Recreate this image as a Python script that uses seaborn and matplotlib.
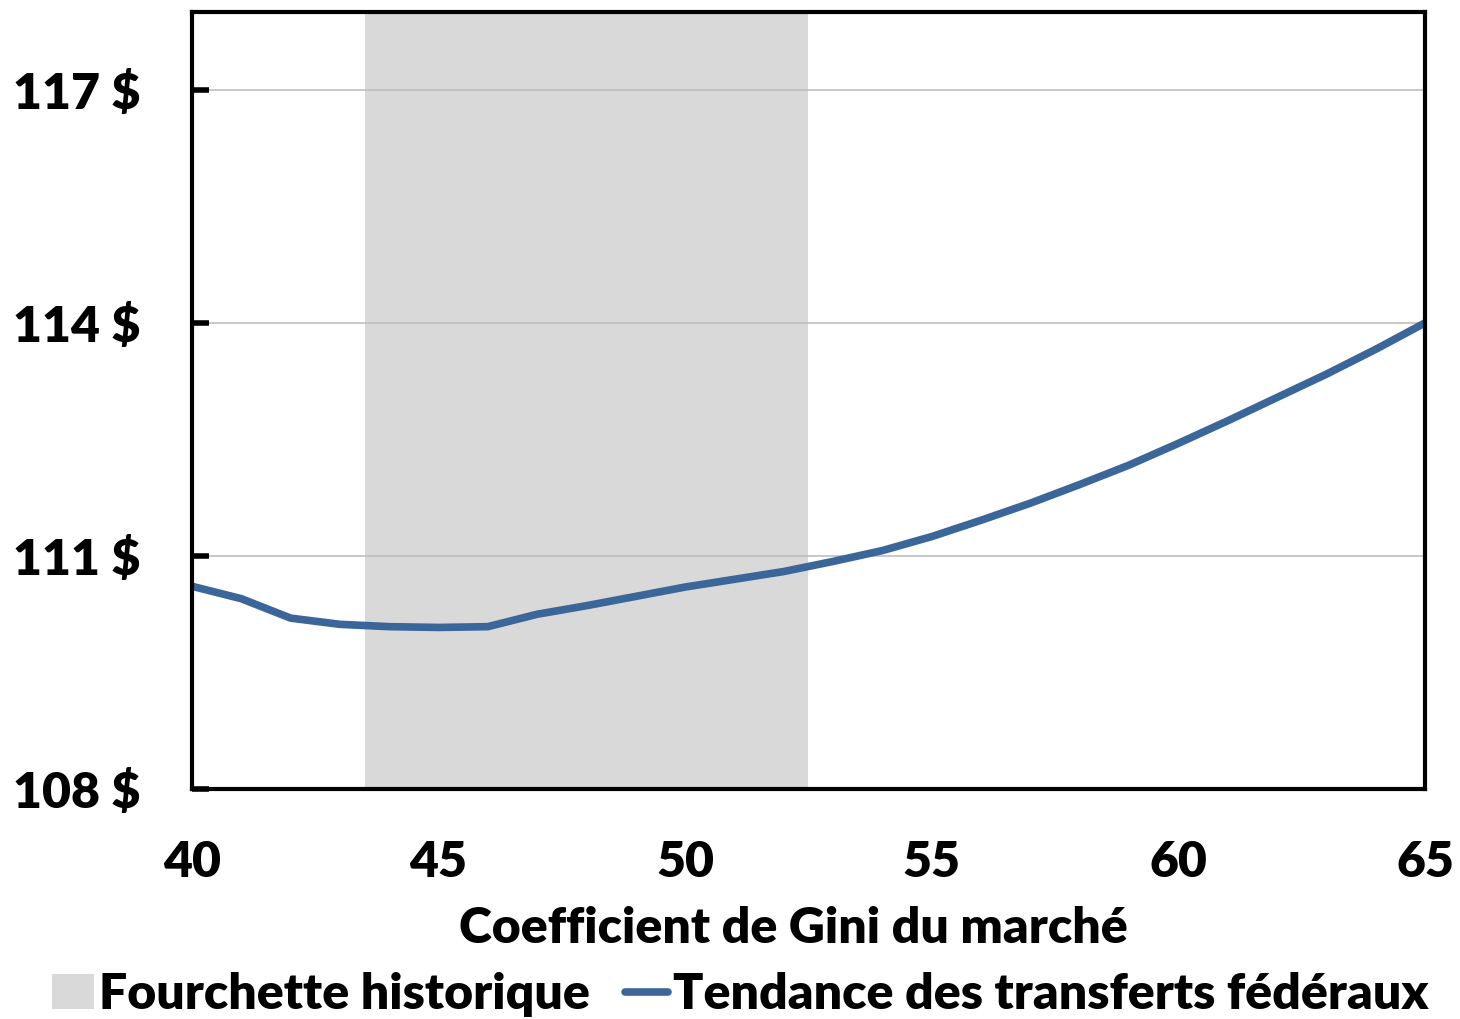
import matplotlib
matplotlib.use("Agg")
import matplotlib.pyplot as plt
import seaborn as sns
import pandas as pd
from matplotlib.patches import Patch
from matplotlib.lines import Line2D

# Data
gini = [40, 41, 42, 43, 44, 45, 46, 47, 48, 49, 50, 51, 52, 53, 54, 55,
        56, 57, 58, 59, 60, 61, 62, 63, 64, 65]
transferts = [110.61, 110.45, 110.20, 110.12, 110.09, 110.08, 110.09, 110.25,
              110.36, 110.48, 110.60, 110.70, 110.80, 110.93, 111.07, 111.25,
              111.46, 111.68, 111.92, 112.17, 112.45, 112.74, 113.04, 113.34,
              113.66, 114.00]
hist_range = [43.5, 52.5]
y_ticks = [108, 111, 114, 117]
x_ticks = [40, 45, 50, 55, 60, 65]
x_label = "Coefficient de Gini du marché"
lbl_range = "Fourchette historique"
lbl_line = "Tendance des transferts fédéraux"

df = pd.DataFrame({"gini": gini, "val": transferts})

sns.set_theme(style="white")
plt.rcParams["font.family"] = ["Lato", "DejaVu Sans"]
plt.rcParams["text.color"] = "black"
plt.rcParams["xtick.color"] = "black"
plt.rcParams["ytick.color"] = "black"
plt.rcParams["axes.labelcolor"] = "black"

FS = 36
W = "heavy"
line_color = "#3A6699"
shade_color = "#D9D9D9"

fig = plt.figure(figsize=(14.6, 10.19), dpi=100)
ax = fig.add_axes([0.1315, 0.2257, 0.976 - 0.1315, 0.988 - 0.2257])
ax.set_axisbelow(False)

ax.axvspan(hist_range[0], hist_range[1], color=shade_color, lw=0, zorder=0)
for yv in y_ticks[1:]:
    ax.axhline(yv, color="#BFBFBF", lw=1.2, zorder=1)
sns.lineplot(data=df, x="gini", y="val", ax=ax, color=line_color, lw=5.5,
             zorder=3, legend=False)

ax.set_xlim(40, 65)
ax.set_ylim(108, 118)
ax.set_xticks(x_ticks)
ax.set_xticklabels([str(v) for v in x_ticks], fontsize=FS, fontweight=W)
ax.set_yticks(y_ticks)
ax.set_yticklabels([f"{v} $" for v in y_ticks], fontsize=FS, fontweight=W)
# inward tick marks on the left spine (drawn on the right side of the spine)
ax.tick_params(axis="y", which="major", left=False, right=False)
ax.tick_params(axis="y", direction="in", length=12, width=4, color="black",
               pad=37, left=True)
ax.tick_params(axis="x", length=0, pad=37)

ax.set_xlabel(x_label, fontsize=FS, fontweight=W, color="black")
ax.xaxis.set_label_coords(0.488, -0.15)
ax.set_ylabel("")

for s in ax.spines.values():
    s.set_color("black")
    s.set_linewidth(3)
    s.set_zorder(4)

handles = [Patch(facecolor=shade_color, edgecolor="none", label=lbl_range),
           Line2D([0], [0], color=line_color, lw=5.5, label=lbl_line)]
fig.legend(handles=handles, loc="center", bbox_to_anchor=(0.507, 0.024),
           ncol=2, frameon=False, handlelength=0.85,
           handletextpad=0.1, columnspacing=0.7,
           prop={"family": ["Lato", "DejaVu Sans"], "weight": W, "size": FS})

fig.savefig("out.png", dpi=100)
